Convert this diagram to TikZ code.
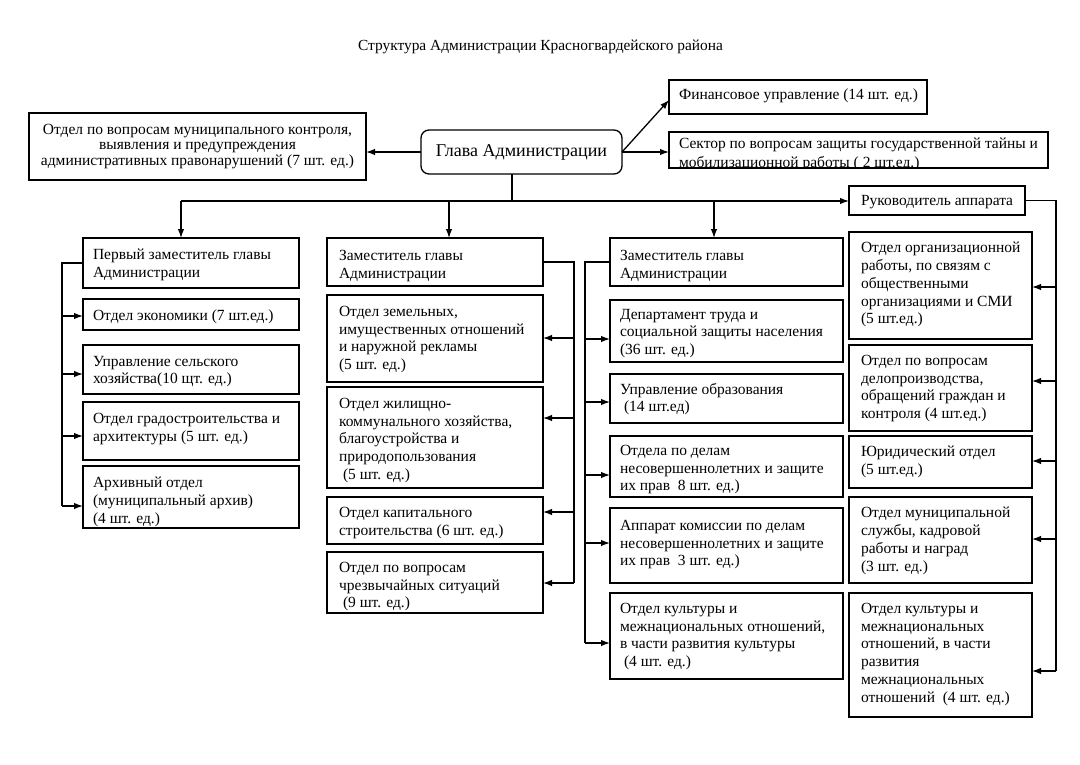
\documentclass[tikz,border=0pt]{standalone}
\usepackage{fontspec}
\setmainfont{Liberation Serif}
\usetikzlibrary{arrows.meta,calc}
\tikzset{
  boxst/.style={draw, line width=1.3pt, inner sep=0pt, outer sep=0pt, anchor=north west},
  txt/.style={inner sep=0pt, outer sep=0pt, align=left, anchor=north west, font=\fontsize{15.5}{17.8}\selectfont},
  conn/.style={line width=1.3pt},
  arr/.style={line width=1.3pt, -{Latex[length=9pt,width=6.5pt]}},
}
\newcommand\mybox[8]{%
  \node[boxst, minimum width={(#4-#2)*1pt}, minimum height={(#5-#3)*1pt}] (#1) at (#2,#3) {};
  \node[txt] (#1t) at (#2+#6,#3+#7) {#8};
}
\begin{document}
\begin{tikzpicture}[x=1pt, y=-1pt]
\fill[white] (0,0) rectangle (1080,764);
\useasboundingbox (0,0) rectangle (1080,764);

% title
\node[inner sep=0pt, anchor=base, font=\fontsize{15.4}{18}\selectfont] (title) at (540.5,50) {Структура Администрации Красногвардейского района};

% head
\node[draw, rounded corners=8pt, line width=1.3pt, inner sep=0pt, outer sep=0pt, minimum width=201pt, minimum height=44pt, anchor=north west, font=\fontsize{18}{20}\selectfont] (G) at (421,130) {Глава Администрации};

% top-left box
\node[boxst, minimum width=337pt, minimum height=67pt] (T) at (29,113) {};
\node[inner sep=0pt, outer sep=0pt, align=center, anchor=north, font=\fontsize{15.5}{15.5}\selectfont] (Tt) at ($(T.north)+(0,11)$) {Отдел по вопросам муниципального контроля,\\ выявления и предупреждения\\ административных правонарушений (7 шт. ед.)};

% finance and sector
\mybox{F}{669}{80}{927}{114}{10}{9}{Финансовое управление (14 шт. ед.)}
\node[boxst, minimum width=379pt, minimum height=36pt] (S) at (669,132) {};
\begin{scope}
\clip (669,132) rectangle (1048,168);
\node[txt, font=\fontsize{15.5}{18.5}\selectfont] (St) at (679,138) {Сектор по вопросам защиты государственной тайны и\\ мобилизационной работы ( 2 шт.ед.)};
\end{scope}

% head of apparatus
\mybox{K}{849}{186}{1025}{215}{12}{9}{Руководитель аппарата}

% column A
\mybox{A0}{83}{238}{299}{288}{10}{11}{Первый заместитель главы\\ Администрации}
\mybox{A1}{83}{299}{299}{330}{10}{11}{Отдел экономики (7 шт.ед.)}
\mybox{A2}{83}{345}{299}{394}{10}{11}{Управление сельского\\ хозяйства(10 щт. ед.)}
\mybox{A3}{83}{402}{299}{460}{10}{11}{Отдел градостроительства и\\ архитектуры (5 шт. ед.)}
\mybox{A4}{83}{466}{299}{528}{10}{11}{Архивный отдел\\ (муниципальный архив)\\ (4 шт. ед.)}

% column B
\mybox{B0}{327}{238}{543}{286}{12}{12}{Заместитель главы\\ Администрации}
\mybox{B1}{327}{295}{543}{382}{12}{11}{Отдел земельных,\\ имущественных отношений\\ и наружной рекламы\\ (5 шт. ед.)}
\mybox{B2}{327}{387}{543}{488}{12}{11}{Отдел жилищно-\\ коммунального хозяйства,\\ благоустройства и\\ природопользования\\ \hspace*{4pt}(5 шт. ед.)}
\mybox{B3}{327}{497}{543}{544}{12}{10}{Отдел капитального\\ строительства (6 шт. ед.)}
\mybox{B4}{327}{552}{543}{613}{12}{10}{Отдел по вопросам\\ чрезвычайных ситуаций\\ \hspace*{4pt}(9 шт. ед.)}

% column C
\mybox{C0}{610}{238}{843}{286}{10}{12}{Заместитель главы\\ Администрации}
\mybox{C1}{610}{300}{843}{362}{10}{9}{Департамент труда и\\ социальной защиты населения\\ (36 шт. ед.)}
\mybox{C2}{610}{374}{843}{423}{10}{9}{Управление образования\\ \hspace*{4pt}(14 шт.ед)}
\mybox{C3}{610}{436}{843}{497}{10}{9}{Отдела по делам\\ несовершеннолетних и защите\\ их прав~ 8 шт. ед.)}
\mybox{C4}{610}{508}{843}{583}{10}{12}{Аппарат комиссии по делам\\ несовершеннолетних и защите\\ их прав~ 3 шт. ед.)}
\mybox{C5}{610}{593}{843}{679}{10}{10}{Отдел культуры и\\ межнациональных отношений,\\ в части развития культуры\\ \hspace*{4pt}(4 шт. ед.)}

% column R
\mybox{R1}{849}{232}{1032}{339}{12}{10}{Отдел организационной\\ работы, по связям с\\ общественными\\ организациями и СМИ\\ (5 шт.ед.)}
\mybox{R2}{849}{345}{1032}{431}{12}{10}{Отдел по вопросам\\ делопроизводства,\\ обращений граждан и\\ контроля (4 шт.ед.)}
\mybox{R3}{849}{436}{1032}{488}{12}{10}{Юридический отдел\\ (5 шт.ед.)}
\mybox{R4}{849}{497}{1032}{583}{12}{10}{Отдел муниципальной\\ службы, кадровой\\ работы и наград\\ (3 шт. ед.)}
\mybox{R5}{849}{593}{1032}{717}{12}{10}{Отдел культуры и\\ межнациональных\\ отношений, в части\\ развития\\ межнациональных\\ отношений~ (4 шт. ед.)}

% connectors from head
\draw[arr] (G.west) -- (T.east |- G.west);
\draw[arr] (G.east) -- ($(F.west)+(0,3)$);
\draw[arr] (G.east) -- (S.west |- G.east);

\coordinate (hb) at (512,201);
\coordinate (hl) at (181,201);
\coordinate (hm) at (449,201);
\coordinate (hr) at (714,201);
\draw[conn] (hb |- G.south) -- (hb);
\draw[conn] (hl) -- (hb);
\draw[arr] (hb) -- (hb -| K.west);
\draw[arr] (hl) -- (hl |- A0.north);
\draw[arr] (hm) -- (hm |- B0.north);
\draw[arr] (hr) -- (hr |- C0.north);

% column A bus
\coordinate (a1) at (62,316);
\coordinate (a2) at (62,374);
\coordinate (a3) at (62,436);
\coordinate (a4) at (62,506);
\draw[conn] (A0.west) -| (a4);
\draw[arr] (a1) -- (a1 -| A1.west);
\draw[arr] (a2) -- (a2 -| A2.west);
\draw[arr] (a3) -- (a3 -| A3.west);
\draw[arr] (a4) -- (a4 -| A4.west);

% column B bus
\coordinate (b1) at (574,338);
\coordinate (b2) at (574,418);
\coordinate (b3) at (574,512);
\coordinate (b4) at (574,583);
\draw[conn] (B0.east) -| (b4);
\draw[arr] (b1) -- (b1 -| B1.east);
\draw[arr] (b2) -- (b2 -| B2.east);
\draw[arr] (b3) -- (b3 -| B3.east);
\draw[arr] (b4) -- (b4 -| B4.east);

% column C bus
\coordinate (c1) at (585,339);
\coordinate (c2) at (585,402);
\coordinate (c3) at (585,475);
\coordinate (c4) at (585,543);
\coordinate (c5) at (585,643);
\draw[conn] (C0.west) -| (c5);
\draw[arr] (c1) -- (c1 -| C1.west);
\draw[arr] (c2) -- (c2 -| C2.west);
\draw[arr] (c3) -- (c3 -| C3.west);
\draw[arr] (c4) -- (c4 -| C4.west);
\draw[arr] (c5) -- (c5 -| C5.west);

% column R bus
\coordinate (r1) at (1056,287);
\coordinate (r2) at (1056,381);
\coordinate (r3) at (1056,461);
\coordinate (r4) at (1056,539);
\coordinate (r5) at (1056,671);
\draw[conn] (K.east) -| (r5);
\draw[arr] (r1) -- (r1 -| R1.east);
\draw[arr] (r2) -- (r2 -| R2.east);
\draw[arr] (r3) -- (r3 -| R3.east);
\draw[arr] (r4) -- (r4 -| R4.east);
\draw[arr] (r5) -- (r5 -| R5.east);
\end{tikzpicture}
\end{document}
